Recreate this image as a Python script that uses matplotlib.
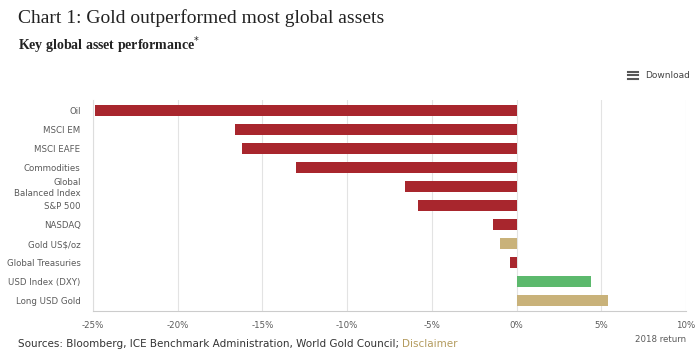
import matplotlib.pyplot as plt

# 2018 returns
assets = ['Oil', 'MSCI EM', 'MSCI EAFE', 'Commodities', 'Global\nBalanced Index',
          'S&P 500', 'NASDAQ', 'Gold US$/oz', 'Global Treasuries',
          'USD Index (DXY)', 'Long USD Gold']
returns = [-24.9, -16.6, -16.2, -13.0, -6.6, -5.8, -1.4, -1.0, -0.4, 4.4, 5.4]
kinds = ['red', 'red', 'red', 'red', 'red', 'red', 'red', 'gold', 'red', 'green', 'gold']
ticks = [-25, -20, -15, -10, -5, 0, 5, 10]

palette = {'red': '#a8262d', 'gold': '#c9b27a', 'green': '#5cb96d'}

fig = plt.figure(figsize=(7, 3.5), dpi=100)
ax = fig.add_axes([93 / 700, 1 - 311 / 350, (686 - 93) / 700, 211 / 350])

ypos = list(range(len(assets)))
ax.barh(ypos, returns, height=0.55, color=[palette[k] for k in kinds], zorder=3)
ax.set_ylim(len(assets) - 0.45, -0.55)
ax.set_xlim(-25, 10)
ax.set_yticks(ypos)
ax.set_yticklabels(assets, fontsize=6.2, color='#5a5a5a', linespacing=1.2)
ax.set_xticks(ticks)
ax.set_xticklabels([f'{t}%' for t in ticks], fontsize=6.2, color='#5a5a5a')
ax.tick_params(axis='both', length=0, pad=9)
ax.tick_params(axis='x', pad=7)
ax.grid(axis='x', color='#e3e3e3', lw=0.8, zorder=0)
for s in ['top', 'right']:
    ax.spines[s].set_visible(False)
ax.spines['left'].set_color('#dddddd')
ax.spines['bottom'].set_color('#cccccc')
ax.text(1.0, -0.115, '2018 return', transform=ax.transAxes, ha='right', va='top',
        fontsize=6.2, color='#5a5a5a')

fig.text(18 / 700, 1 - 18 / 350, 'Chart 1: Gold outperformed most global assets',
         family='Liberation Serif', fontsize=14, color='#222222', va='center')
fig.text(18 / 700, 1 - 45 / 350, 'Key global asset performance$^{*}$',
         family='Liberation Serif', fontsize=10, weight='bold', color='#222222', va='center')

# download menu
for dy in (-3.5, 0, 3.5):
    fig.lines.append(plt.Line2D([628 / 700, 638 / 700], [1 - (75 + dy) / 350] * 2,
                                transform=fig.transFigure, color='#555555', lw=1.5))
fig.text(645 / 700, 1 - 75 / 350, 'Download', fontsize=6.5, color='#444444', va='center')

t = fig.text(18 / 700, 1 / 350,
             'Sources: Bloomberg, ICE Benchmark Administration, World Gold Council; ',
             fontsize=7.5, color='#333333', va='bottom')
fig.canvas.draw()
bb = t.get_window_extent()
fig.text(bb.x1 / 700, 1 / 350, 'Disclaimer', fontsize=7.5, color='#b39b5e', va='bottom')

fig.savefig('out.png', dpi=100)
